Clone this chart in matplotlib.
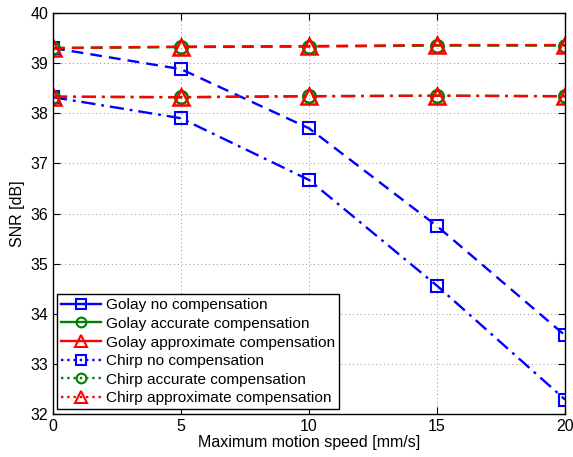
import numpy as np
import matplotlib.pyplot as plt
from matplotlib.lines import Line2D

plt.rcParams['font.family'] = ['Liberation Sans', 'DejaVu Sans']

speed = [0, 5, 10, 15, 20]

golay_none = [39.30, 38.88, 37.70, 35.75, 33.57]
golay_accurate = [39.30, 39.32, 39.33, 39.35, 39.35]
golay_approx = [39.30, 39.33, 39.34, 39.36, 39.36]
chirp_none = [38.32, 37.90, 36.67, 34.56, 32.29]
chirp_accurate = [38.33, 38.32, 38.34, 38.35, 38.34]
chirp_approx = [38.33, 38.32, 38.34, 38.35, 38.34]

labels = ['Golay no compensation', 'Golay accurate compensation',
          'Golay approximate compensation', 'Chirp no compensation',
          'Chirp accurate compensation', 'Chirp approximate compensation']

blue = '#0000ff'
green = '#008000'
red = '#ff0000'

fig = plt.figure(figsize=(5.73, 4.57), dpi=100)
ax = fig.add_axes([0.0925, 0.094, 0.8935, 0.8776])

lw = 1.7
dash = (0, (5, 3))
dashdot = (0, (6, 2.5, 1.2, 2.5))
ax.plot(speed, golay_none, ls=dash, color=blue, lw=lw, marker='s',
        ms=8, mfc='none', mew=1.5)
ax.plot(speed, chirp_none, ls=dashdot, color=blue, lw=lw,
        marker='s', ms=8, mfc='none', mew=1.5)
ax.plot(speed, golay_accurate, ls=dash, color=green, lw=lw,
        marker='o', ms=9, mfc='none', mew=1.8)
ax.plot(speed, chirp_accurate, ls=dashdot, color=green,
        lw=lw, marker='o', ms=9, mfc='none', mew=1.8)
ax.plot(speed, golay_approx, ls=dash, color=red, lw=lw, marker='^',
        ms=11, mfc='none', mew=1.8)
ax.plot(speed, chirp_approx, ls=dashdot, color=red, lw=lw,
        marker='^', ms=11, mfc='none', mew=1.8)

ax.set_xlim(0, 20)
ax.set_ylim(32, 40)
ax.set_xticks([0, 5, 10, 15, 20])
ax.set_yticks(np.arange(32, 41, 1))
ax.grid(True, ls=(0, (1, 3)), color='#909090', lw=0.7)
ax.tick_params(direction='in', top=True, right=True, labelsize=11.5,
               length=5, width=0.8)
for s in ax.spines.values():
    s.set_linewidth(1.0)
ax.set_xlabel('Maximum motion speed [mm/s]', fontsize=11.5, labelpad=1)
ax.set_ylabel('SNR [dB]', fontsize=11.5, labelpad=4)

# legend keys: solid for Golay, dotted for Chirp
styles = [('-', blue, 's'), ('-', green, 'o'), ('-', red, '^'),
          (':', blue, 's'), (':', green, 'o'), (':', red, '^')]
handles = [Line2D([], [], ls=st, color=c, lw=lw, marker=m,
                  ms=7 if m != '^' else 9, mfc='none', mew=1.5)
           for st, c, m in styles]
leg = ax.legend(handles, labels, loc='lower left', bbox_to_anchor=(0.008, 0.012),
                fontsize=11.1, fancybox=False, edgecolor='black',
                framealpha=1, handlelength=2.6, handletextpad=0.3,
                labelspacing=0.3, borderpad=0.25, borderaxespad=0)
leg.get_frame().set_linewidth(1.0)

fig.savefig('out.png', dpi=100)
